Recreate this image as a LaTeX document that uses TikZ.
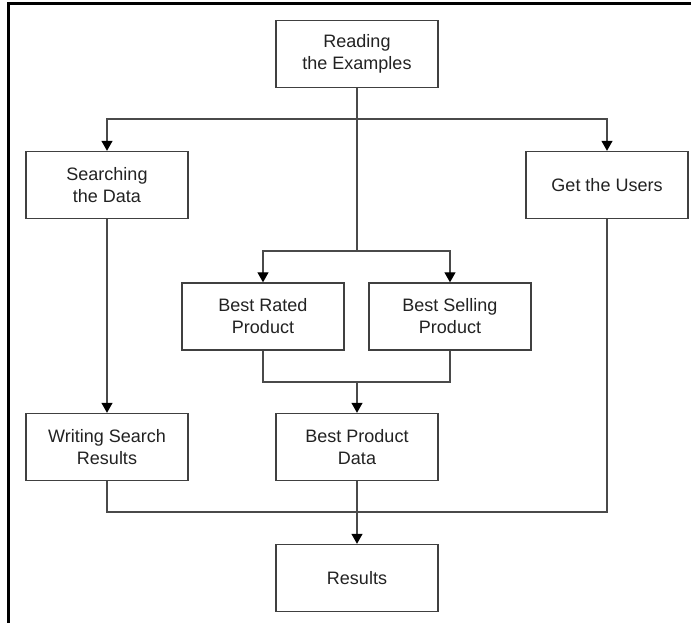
\documentclass[tikz,border=0pt]{standalone}
\usepackage{fontspec}
\setmainfont{Liberation Sans}
\usetikzlibrary{arrows.meta}

\definecolor{boxline}{HTML}{404040}
\definecolor{wire}{HTML}{4A4A4A}
\definecolor{ink}{HTML}{222222}

\begin{document}
\begin{tikzpicture}[x=1bp, y=-1bp, % pixel grid of the reference, y runs down
                    line join=miter,
                    every node/.style = {inner sep=1pt, font=\fontsize{18bp}{22bp}\selectfont, text=ink},
                    stage/.style = {draw=boxline, line width=1.4bp, fill=white, align=center,
                                    minimum width=162bp, minimum height=67bp},
                    wire/.style = {draw=wire, line width=1.2bp},
                    flow/.style = {wire, -{Triangle[length=10bp, width=11bp, color=black]}}
                   ]
  \useasboundingbox (0,0) rectangle (691,623);
  % frame of the screenshot
  \draw[line width=3bp, line cap=rect] (8,623) -- (8,4) -- (691,4);

  \node[stage] (read)     at (357,54)    {Reading\\the Examples};
  \node[stage] (search)   at (107,185)   {Searching\\the Data};
  \node[stage] (users)    at (607,185)   {Get the Users};
  \node[stage] (rated)    at (263,316.5) {Best Rated\\Product};
  \node[stage] (selling)  at (450,316.5) {Best Selling\\Product};
  \node[stage] (writing)  at (107,447)   {Writing Search\\Results};
  \node[stage] (bestdata) at (357,447)   {Best Product\\Data};
  \node[stage] (results)  at (357,578)   {Results};

  \coordinate (split1) at (357,119);
  \coordinate (split2) at (357,251);
  \coordinate (join1)  at (357,382);
  \coordinate (join2)  at (357,512);

  \draw[wire] (read.south) -- (split1) -- (split2);
  \draw[flow] (split1) -| (search.north);
  \draw[flow] (split1) -| (users.north);
  \draw[flow] (split2) -| (rated.north);
  \draw[flow] (split2) -| (selling.north);
  \draw[wire] (rated.south) |- (join1) -| (selling.south);
  \draw[flow] (join1) -- (bestdata.north);
  \draw[flow] (search.south) -- (writing.north);
  \draw[wire] (writing.south) |- (join2) -| (users.south);
  \draw[wire] (bestdata.south) -- (join2);
  \draw[flow] (join2) -- (results.north);
\end{tikzpicture}
\end{document}
